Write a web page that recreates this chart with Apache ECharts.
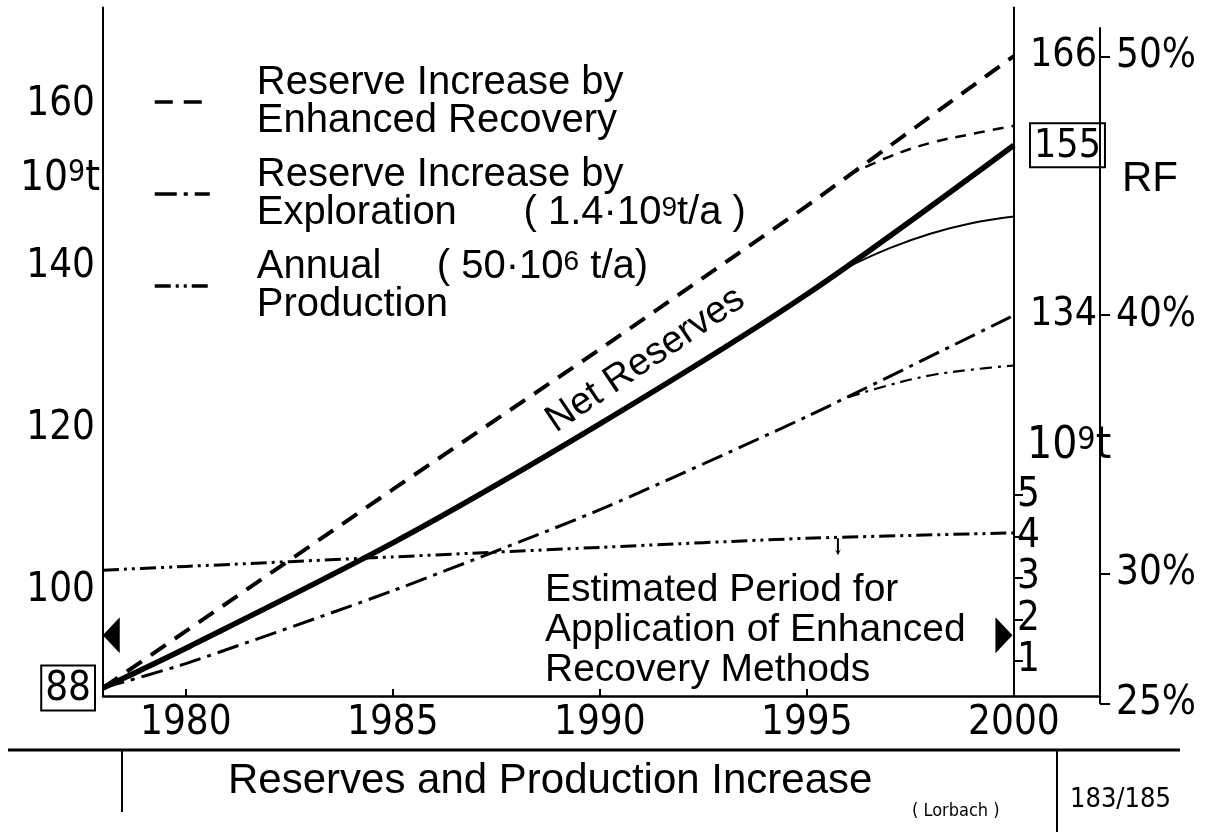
<!DOCTYPE html>
<html>
<head>
<meta charset="utf-8">
<title>Reserves and Production Increase</title>
<script src="https://cdn.jsdelivr.net/npm/echarts@6/dist/echarts.min.js"></script>
<style>
  html, body { margin: 0; padding: 0; background: #fff; }
  #chart { width: 1211px; height: 832px; }
</style>
</head>
<body>
<div id="chart"></div>
<script>
// values (reserves in 10^9 t)
var years = [1978, 1980, 1985, 1990, 1995, 2000];
var netReserves = [88, 92.9, 105.9, 120.6, 136.6, 155];
var enhancedRecovery = [88, 95, 112.5, 129.8, 147.5, 166];
var exploration = [88, 91, 100, 110, 121.5, 134];
var production = [3.19, 3.28, 3.51, 3.74, 3.96, 4.09];

// flattening branches near the end of the period
var branchYears = [1996, 1997, 1998, 1999, 2000];
var enhancedBranch = [151.3, 153.6, 155.3, 156.4, 157.4];
var netBranch = [140.0, 142.3, 144.1, 145.4, 146.2];
var explorationBranch = [123.9, 125.4, 126.6, 127.3, 127.8];

// arrow heads marking the period 1978 - 2000, and the small drop mark on the production line
var periodYears = [1978.2, 1999.76];
var periodLevel = [94.5, 94.5];
var dropMark = [1995.75, 3.97];

// tick labels
var yearTicks = [1980, 1985, 1990, 1995, 2000];
var yearMinorTicks = [1980, 1985, 1990, 1995];
var leftTicks = [88, 100, 120, 140, 160];
var endTicks = [134, 155, 166];
var boxedValues = [88, 155];
var productionTicks = [1, 2, 3, 4, 5];
var rfTicks = [25, 30, 40, 50];

var legendNames = {
  'Reserve Increase by Enhanced Recovery': 'Reserve Increase by\nEnhanced Recovery',
  'Reserve Increase by Exploration': 'Reserve Increase by\nExploration      ( 1.4·10{sup|9}t/a )',
  'Annual Production': 'Annual     ( 50·10{sup|6} t/a)\nProduction'
};

function pairs(xs, ys) {
  return xs.map(function (x, i) { return [x, ys[i]]; });
}

var ink = '#000';
var narrow = "'Liberation Sans Narrow', 'Arial Narrow', 'DejaVu Sans Condensed', sans-serif";
var plain = "'Liberation Sans', Arial, sans-serif";

function boxRich(size) {
  return {
    box: {
      fontFamily: narrow, fontSize: size, color: ink,
      borderColor: ink, borderWidth: 2, padding: [4, 4, 1, 4]
    }
  };
}
function boxed(v) {
  return boxedValues.indexOf(v) >= 0 ? '{box|' + v + '}' : String(v);
}
var supRich = {
  sup: { fontFamily: plain, fontSize: 28, lineHeight: 20, verticalAlign: 'top', color: ink }
};

var myChart = echarts.init(document.getElementById('chart'));

var option = {
  backgroundColor: '#fff',
  animation: false,
  color: [ink],
  grid: [
    { left: 103, right: 111, top: 7.5, bottom: 136, outerBoundsMode: 'none' },
    { left: 1014, right: 111, top: 28, bottom: 128.7, outerBoundsMode: 'none' }
  ],
  legend: {
    data: Object.keys(legendNames),
    orient: 'vertical',
    left: 148,
    top: 58,
    itemWidth: 55,
    itemHeight: 10,
    itemGap: 14,
    selectedMode: false,
    itemStyle: { opacity: 0 },
    lineStyle: { width: 3.5 },
    formatter: function (name) { return legendNames[name]; },
    textStyle: {
      fontFamily: plain, fontSize: 40, lineHeight: 38, color: ink,
      padding: [0, 0, 0, 42],
      rich: supRich
    }
  },
  xAxis: [
    {
      gridIndex: 0, type: 'value', min: 1978, max: 2002.08,
      splitLine: { show: false },
      axisLine: { onZero: false, lineStyle: { color: ink, width: 2.5 } },
      axisTick: { inside: true, length: 7, customValues: yearMinorTicks, lineStyle: { color: ink, width: 2 } },
      axisLabel: {
        customValues: yearTicks, color: ink, fontFamily: narrow, fontSize: 40, margin: 8,
        formatter: function (v) { return String(v); }
      }
    },
    { gridIndex: 1, type: 'value', min: 0, max: 1, show: false }
  ],
  yAxis: [
    {
      gridIndex: 0, type: 'value', position: 'left', min: 87, max: 172,
      splitLine: { show: false },
      axisLine: { show: true, onZero: false, lineStyle: { color: ink, width: 2 } },
      axisTick: { show: false },
      axisLabel: {
        customValues: leftTicks, color: ink, fontFamily: narrow, fontSize: 40, margin: 8,
        showMinLabel: true, showMaxLabel: true,
        formatter: boxed, rich: boxRich(40)
      }
    },
    {
      gridIndex: 0, type: 'value', position: 'right', offset: -86, min: 87, max: 172,
      splitLine: { show: false },
      axisLine: { show: true, onZero: false, lineStyle: { color: ink, width: 2 } },
      axisTick: { show: false },
      axisLabel: {
        customValues: endTicks, color: ink, fontFamily: narrow, fontSize: 39, margin: 16,
        showMinLabel: true, showMaxLabel: true,
        formatter: boxed, rich: boxRich(39)
      }
    },
    {
      gridIndex: 0, type: 'value', position: 'right', offset: -86, min: 0.15, max: 16.78,
      splitLine: { show: false },
      axisLine: { show: false, onZero: false },
      axisTick: { show: true, length: 9, customValues: productionTicks, lineStyle: { color: ink, width: 2 } },
      axisLabel: {
        customValues: productionTicks, color: ink, fontFamily: narrow, fontSize: 40, margin: 3,
        showMinLabel: true, showMaxLabel: true, hideOverlap: false
      }
    },
    {
      gridIndex: 1, type: 'value', position: 'right', min: 25, max: 51.1,
      splitLine: { show: false },
      axisLine: { show: true, onZero: false, lineStyle: { color: ink, width: 2 } },
      axisTick: { show: true, length: 10, customValues: rfTicks, lineStyle: { color: ink, width: 2 } },
      axisLabel: {
        customValues: rfTicks, color: ink, fontFamily: narrow, fontSize: 40, margin: 16,
        showMinLabel: true, showMaxLabel: true,
        formatter: function (v) { return v + '%'; }
      }
    }
  ],
  series: [
    {
      name: 'Reserve Increase by Enhanced Recovery', type: 'line', symbol: 'none',
      data: pairs(years, enhancedRecovery),
      lineStyle: { color: ink, width: 4, type: [18, 11] }
    },
    {
      name: 'Reserve Increase by Exploration', type: 'line', symbol: 'none', smooth: 0.2,
      data: pairs(years, exploration),
      lineStyle: { color: ink, width: 3, type: [22, 7, 4, 7] }
    },
    {
      name: 'Annual Production', type: 'line', symbol: 'none', yAxisIndex: 2, smooth: 0.2,
      data: pairs(years, production),
      lineStyle: { color: ink, width: 3, type: [16, 5, 3, 5, 3, 5] },
      markPoint: {
        symbol: 'path://M-1,0 L1,0 L1,13 L3,11 L0,17 L-3,11 L-1,13 Z',
        symbolSize: [6, 17], symbolOffset: [0, 9],
        itemStyle: { color: ink },
        label: { show: false },
        data: [{ coord: dropMark }]
      }
    },
    {
      name: 'Net Reserves', type: 'line', symbol: 'none', smooth: 0.3,
      data: pairs(years, netReserves),
      lineStyle: { color: ink, width: 5.5 },
      markPoint: {
        symbol: 'circle', symbolSize: 0,
        data: [{ coord: [1991.1, 128.5] }],
        label: {
          show: true, formatter: 'Net Reserves', rotate: 34,
          color: ink, fontFamily: plain, fontSize: 38
        }
      }
    },
    {
      name: 'enhanced branch', type: 'line', symbol: 'none', smooth: 0.4,
      data: pairs(branchYears, enhancedBranch),
      lineStyle: { color: ink, width: 2.5, type: [11, 8] }
    },
    {
      name: 'net branch', type: 'line', symbol: 'none', smooth: 0.4,
      data: pairs(branchYears, netBranch),
      lineStyle: { color: ink, width: 2 }
    },
    {
      name: 'exploration branch', type: 'line', symbol: 'none', smooth: 0.4,
      data: pairs(branchYears, explorationBranch),
      lineStyle: { color: ink, width: 2.2, type: [12, 6, 3, 6] }
    },
    {
      name: 'period', type: 'scatter', symbol: 'triangle', symbolSize: [36, 17],
      symbolRotate: function (v, p) { return p.dataIndex === 0 ? 90 : -90; },
      itemStyle: { color: ink, opacity: 1 },
      data: pairs(periodYears, periodLevel)
    }
  ],
  graphic: [
    { type: 'text', left: 20, top: 158, style: { text: '10{sup|9}t', fontFamily: narrow, fontSize: 42, fill: ink, rich: { sup: { fontFamily: narrow, fontSize: 30, verticalAlign: 'top', lineHeight: 18 } } } },
    { type: 'text', left: 1027, top: 425, style: { text: '10{sup|9}t', fontFamily: narrow, fontSize: 44, fill: ink, rich: { sup: { fontFamily: narrow, fontSize: 32, verticalAlign: 'top', lineHeight: 18 } } } },
    { type: 'text', left: 1122, top: 158, style: { text: 'RF', fontFamily: plain, fontSize: 42, fill: ink } },
    { type: 'text', left: 545, top: 570, style: { text: 'Estimated Period for\nApplication of Enhanced\nRecovery Methods', fontFamily: plain, fontSize: 39, lineHeight: 40, fill: ink } },
    { type: 'line', shape: { x1: 8, y1: 750, x2: 1180, y2: 750 }, style: { stroke: ink, lineWidth: 3 } },
    { type: 'line', shape: { x1: 122, y1: 750, x2: 122, y2: 812 }, style: { stroke: ink, lineWidth: 2 } },
    { type: 'line', shape: { x1: 1057, y1: 750, x2: 1057, y2: 832 }, style: { stroke: ink, lineWidth: 2 } },
    { type: 'text', left: 228, top: 760, style: { text: 'Reserves and Production Increase', fontFamily: plain, fontSize: 42, fill: ink } },
    { type: 'text', left: 912, top: 802, style: { text: '( Lorbach )', fontFamily: narrow, fontSize: 18, fill: ink } },
    { type: 'text', left: 1070, top: 786, style: { text: '183/185', fontFamily: narrow, fontSize: 27, fill: ink } }
  ]
};

myChart.setOption(option);
</script>
</body>
</html>
